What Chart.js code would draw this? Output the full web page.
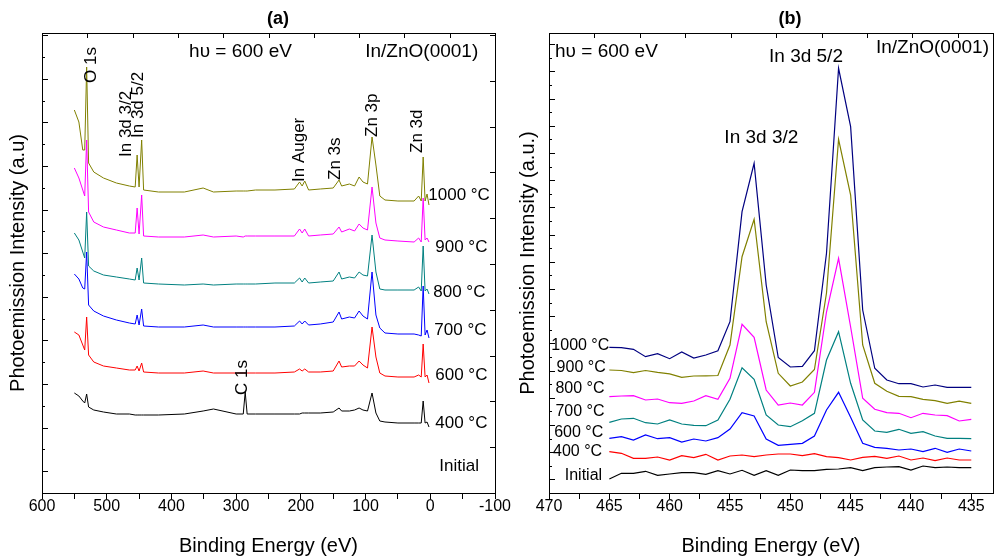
<!DOCTYPE html>
<html>
<head>
<meta charset="utf-8">
<script src="https://cdn.jsdelivr.net/npm/chart.js@4.4.1/dist/chart.umd.min.js"></script>
<style>
  body { margin: 0; background: #fff; }
  #wrap { position: relative; width: 995px; height: 558px; }
  canvas { position: absolute; top: 0; }
  #chartA { left: 0; }
  #chartB { left: 500px; }
</style>
</head>
<body>
<div id="wrap">
  <canvas id="chartA" width="520" height="558"></canvas>
  <canvas id="chartB" width="495" height="558"></canvas>
</div>
<script>
const FONT = "'Liberation Sans', Arial, Helvetica, sans-serif";

// ---- panel (a): survey spectra, binding energy (eV) vs intensity (a.u.)
const surveyEnergy = [550, 543, 537, 534, 531, 528, 520, 505, 485, 465,
  456, 453, 450, 446, 443, 420, 380, 351, 335, 300,
  289, 286, 283, 270, 240, 210, 202, 198, 194, 188,
  170, 150, 141, 137, 125, 117, 110, 104, 97, 90,
  84, 78, 70, 50, 25, 18, 14, 11, 8, 5, 2];
const survey1000 = [390, 378, 350, 350, 433, 337, 328, 322, 317, 314,
  313, 345, 313, 360, 310, 308, 308, 312, 308, 309,
  309, 309, 309, 310, 310, 311, 318, 314, 319, 310,
  311, 312, 320, 314, 316, 314, 323, 318, 316, 363,
  335, 304, 300, 299, 299, 304, 299, 343, 299, 306, 295];
const survey900 = [332, 322, 310, 304, 360, 288, 278, 273, 270, 267,
  267, 292, 266, 305, 264, 263, 263, 265, 263, 264,
  263, 264, 264, 264, 264, 264, 271, 267, 271, 264,
  265, 266, 273, 268, 271, 269, 276, 272, 270, 313,
  277, 262, 260, 259, 258, 262, 258, 302, 260, 262, 258];
const survey800 = [267, 260, 248, 242, 288, 234, 229, 225, 223, 221,
  220, 232, 220, 242, 217, 216, 215, 216, 215, 216,
  216, 216, 216, 216, 217, 217, 222, 218, 222, 217,
  218, 219, 228, 221, 223, 222, 228, 225, 224, 265,
  228, 211, 210, 210, 210, 213, 209, 254, 209, 211, 206];
const survey700 = [226, 221, 212, 211, 248, 195, 189, 184, 180, 177,
  176, 185, 175, 191, 174, 173, 173, 175, 173, 173,
  173, 173, 173, 173, 173, 174, 179, 176, 179, 175,
  176, 178, 188, 181, 183, 182, 189, 184, 181, 228,
  185, 172, 167, 166, 166, 165, 164, 214, 165, 170, 162];
const survey600 = [168, 165, 155, 150, 183, 145, 138, 134, 132, 130,
  130, 134, 129, 137, 128, 127, 127, 129, 127, 127,
  127, 127, 127, 127, 127, 128, 131, 129, 131, 128,
  128, 129, 139, 133, 134, 134, 139, 135, 132, 173,
  143, 127, 124, 123, 123, 125, 123, 156, 123, 125, 117];
const survey400 = [107, 104, 99, 97, 106, 93, 90, 88, 86, 86,
  85, 85, 85, 85, 85, 85, 86, 89, 91, 86,
  86, 108, 86, 86, 86, 86, 86, 87, 87, 87,
  87, 88, 92, 89, 89, 90, 92, 90, 89, 107,
  87, 79, 78, 77, 77, 77, 77, 99, 77, 78, 73];
const surveyTickLabels = [600, 500, 400, 300, 200, 100, 0, -100];

// ---- panel (b): In 3d region
const inEnergy = [465, 464, 463, 462, 461, 460, 459, 458, 457, 456,
  455, 454, 453, 452, 451, 450, 449, 448, 447, 446,
  445, 444, 443, 442, 441, 440, 439, 438, 437, 436, 435];
const in1000 = [152.7, 152.3, 150.7, 143.3, 146.3, 141.3, 148, 142, 145, 149.3,
  178.3, 288.3, 336.7, 215, 142.5, 133, 133.7, 149.3, 246.7, 431.7,
  373.3, 190, 131.7, 120, 116.3, 116.3, 113, 115, 112.7, 112.7, 112.7];
const in900 = [130, 129.5, 127.3, 129.5, 127.7, 126.2, 122.7, 124, 124.2, 124.5,
  155, 243.3, 280.7, 178.3, 126.7, 114, 118, 130.5, 207, 360.7,
  305, 155, 116.7, 108.7, 103.7, 103.3, 100.7, 99.3, 96.7, 98.8, 96.7];
const in800 = [103.3, 104, 104.3, 100, 101, 97.3, 96.7, 99, 104.3, 100.7,
  121.7, 175.7, 162.7, 110, 94.8, 97, 95, 107.7, 188, 241.7,
  173, 101.7, 90.7, 87.3, 86.7, 82.3, 86.7, 85, 84.3, 79, 80.7];
const in700 = [77.7, 81, 81.7, 77.3, 76, 80, 76, 74.7, 74.3, 80,
  100.7, 132.3, 120.7, 85, 75, 73.3, 79.3, 86.7, 140, 168.3,
  116.7, 80, 69, 67.7, 70.7, 66.7, 68.3, 64, 61.7, 61.7, 61.3];
const in600 = [61.7, 63.3, 60, 65, 61.3, 62.3, 58, 61, 59, 62.3,
  71, 87.3, 84, 61, 54.7, 55.7, 56.7, 64, 90, 107.7,
  82.7, 56.7, 52.7, 51.7, 50, 51, 48.3, 51.7, 47.7, 51, 49];
const in400 = [48.3, 46.7, 41.7, 41.7, 43, 40, 44.3, 42.3, 45.7, 40,
  44, 45, 43.3, 45, 46, 46, 44.3, 46.3, 43.3, 42.3,
  40, 42.7, 43.7, 41.7, 44, 40, 42, 39.3, 42, 40, 40];
const inInitial = [21, 26.7, 26.7, 28.7, 24.7, 26, 27.3, 27.3, 25.7, 29.3,
  26, 29.7, 24.7, 29.3, 24.7, 30, 29.3, 29.3, 30.7, 31,
  32.3, 29.3, 32.3, 33, 33.3, 30, 34, 32.3, 33, 32.3, 32.3];
const inTickLabels = [470, 465, 460, 455, 450, 445, 440, 435];

// text placed in data coordinates (energy, intensity)
const notesA = [
  { t: 'h\u03c5 = 600 eV', e: 372.7, v: 448, size: 19 },
  { t: 'In/ZnO(0001)', e: 100.5, v: 448, size: 19 },
  { t: 'O 1s', e: 523.2, v: 417, size: 17, rot: true },
  { t: 'In 3d 3/2', e: 469, v: 343, size: 17, rot: true },
  { t: 'In 3d 5/2', e: 451.6, v: 362, size: 17, rot: true },
  { t: 'In Auger', e: 202.6, v: 318, size: 17, rot: true },
  { t: 'Zn 3s', e: 147, v: 320, size: 17, rot: true },
  { t: 'Zn 3p', e: 90.2, v: 363, size: 17, rot: true },
  { t: 'Zn 3d', e: 20.1, v: 347, size: 17, rot: true },
  { t: 'C 1s', e: 291.2, v: 105, size: 17, rot: true },
  { t: '1000 \u00b0C', e: 3.1, v: 305, size: 17 },
  { t: '900 \u00b0C', e: -7.7, v: 253, size: 17 },
  { t: '800 \u00b0C', e: -4.6, v: 208, size: 17 },
  { t: '700 \u00b0C', e: -6.2, v: 170, size: 17 },
  { t: '600 \u00b0C', e: -7.7, v: 125, size: 17 },
  { t: '400 \u00b0C', e: -7.7, v: 77, size: 17 },
  { t: 'Initial', e: -13.9, v: 34, size: 17 }
];
const notesB = [
  { t: 'h\u03c5 = 600 eV', e: 469.5, v: 448, size: 19 },
  { t: 'In/ZnO(0001)', e: 442.9, v: 452, size: 19 },
  { t: 'In 3d 5/2', e: 448.7, v: 443, size: 19, align: 'center' },
  { t: 'In 3d 3/2', e: 452.4, v: 362, size: 19, align: 'center' },
  { t: '1000 \u00b0C', e: 465.0, v: 154, size: 16, align: 'right' },
  { t: '900 \u00b0C', e: 465.3, v: 132, size: 16, align: 'right' },
  { t: '800 \u00b0C', e: 465.4, v: 111, size: 16, align: 'right' },
  { t: '700 \u00b0C', e: 465.4, v: 88, size: 16, align: 'right' },
  { t: '600 \u00b0C', e: 465.5, v: 67, size: 16, align: 'right' },
  { t: '400 \u00b0C', e: 465.6, v: 48, size: 16, align: 'right' },
  { t: 'Initial', e: 465.6, v: 24, size: 16, align: 'right' }
];

function lineSet(label, xs, ys, color, width) {
  return {
    label: label,
    data: xs.map((x, i) => ({ x: x, y: ys[i] })),
    borderColor: color,
    borderWidth: width,
    pointRadius: 0,
    tension: 0,
    fill: false
  };
}

// frame, inward ticks, titles and labels
const framePlugin = {
  id: 'frame',
  afterDatasetsDraw(chart, args, o) {
    const ctx = chart.ctx;
    const a = chart.chartArea;
    const x = chart.scales.x, y = chart.scales.y;
    ctx.save();
    ctx.strokeStyle = '#000';
    ctx.lineWidth = 1;
    ctx.strokeRect(a.left + 0.5, a.top + 0.5, a.right - a.left, a.bottom - a.top);

    ctx.beginPath();
    let k = 0;
    for (let v = y.min; v <= y.max + 0.01; v += o.leftStep, k++) {
      const py = Math.round(y.getPixelForValue(v)) + 0.5;
      const len = (k % 2) ? 6 : 3;
      ctx.moveTo(a.left, py); ctx.lineTo(a.left + len, py);
    }
    if (o.rightStep) {
      for (let v = y.min; v <= y.max + 0.01; v += o.rightStep) {
        const py = Math.round(y.getPixelForValue(v)) + 0.5;
        ctx.moveTo(a.right, py); ctx.lineTo(a.right - 5, py);
      }
    }
    for (let e = x.max; e >= x.min - 0.01; e -= o.topStep) {
      const px = Math.round(x.getPixelForValue(e)) + 0.5;
      ctx.moveTo(px, a.top); ctx.lineTo(px, a.top + 5);
    }
    ctx.stroke();

    ctx.fillStyle = '#000';
    // panel title
    ctx.font = 'bold 18px ' + FONT;
    ctx.textAlign = 'center';
    ctx.textBaseline = 'middle';
    ctx.fillText(o.title, (a.left + a.right) / 2 + o.titleDx, a.top - 14);

    // y axis title
    ctx.save();
    ctx.font = '20px ' + FONT;
    ctx.translate(a.left - o.yTitleGap, (a.top + a.bottom) / 2);
    ctx.rotate(-Math.PI / 2);
    ctx.fillText(o.yTitle, 0, 0);
    ctx.restore();

    o.notes.forEach(n => {
      const px = x.getPixelForValue(n.e);
      const py = y.getPixelForValue(n.v);
      ctx.font = n.size + 'px ' + FONT;
      ctx.textBaseline = 'middle';
      if (n.rot) {
        ctx.save();
        ctx.translate(px, py);
        ctx.rotate(-Math.PI / 2);
        ctx.textAlign = 'left';
        ctx.fillText(n.t, 0, 0);
        ctx.restore();
      } else {
        ctx.textAlign = n.align || 'left';
        ctx.fillText(n.t, px, py);
      }
    });
    ctx.restore();
  }
};

function xAxis(min, max, step, labels, height) {
  return {
    type: 'linear',
    reverse: true,
    min: min,
    max: max,
    position: 'bottom',
    afterFit: s => { s.height = height; },
    afterBuildTicks: s => {
      s.ticks = s.ticks.filter(t => Math.abs(t.value / step - Math.round(t.value / step)) < 1e-6);
    },
    ticks: {
      stepSize: step,
      includeBounds: false,
      autoSkip: false,
      maxRotation: 0,
      color: '#000',
      padding: 0,
      font: { family: FONT, size: 16, lineHeight: 1 },
      callback: v => labels.includes(v) ? String(v) : ''
    },
    grid: { drawOnChartArea: false, drawTicks: true, tickLength: 6, color: '#000' },
    border: { display: true, color: '#000', width: 1 },
    title: { display: true, text: 'Binding Energy (eV)', color: '#000',
             font: { family: FONT, size: 20 }, padding: 0 }
  };
}

new Chart(document.getElementById('chartA'), {
  type: 'line',
  data: {
    datasets: [
      lineSet('400 °C', surveyEnergy, survey400, '#000000', 1),
      lineSet('600 °C', surveyEnergy, survey600, '#ff0000', 1),
      lineSet('700 °C', surveyEnergy, survey700, '#0000ff', 1),
      lineSet('800 °C', surveyEnergy, survey800, '#008080', 1),
      lineSet('900 °C', surveyEnergy, survey900, '#ff00ff', 1),
      lineSet('1000 °C', surveyEnergy, survey1000, '#808000', 1)
    ]
  },
  options: {
    responsive: false,
    animation: false,
    devicePixelRatio: 1,
    layout: { padding: { left: 42, right: 25, top: 33, bottom: 0 } },
    plugins: {
      legend: { display: false },
      tooltip: { enabled: false },
      frame: { title: '(a)', titleDx: 9.5, yTitle: 'Photoemission Intensity (a.u)', yTitleGap: 24,
               leftStep: 21.8, rightStep: 45.8, topStep: 70, notes: notesA }
    },
    scales: {
      x: xAxis(-100, 600, 50, surveyTickLabels, 65),
      y: { display: false, min: 7, max: 467 }
    }
  },
  plugins: [framePlugin]
});

new Chart(document.getElementById('chartB'), {
  type: 'line',
  data: {
    datasets: [
      lineSet('Initial', inEnergy, inInitial, '#000000', 1.2),
      lineSet('400 °C', inEnergy, in400, '#ff0000', 1.2),
      lineSet('600 °C', inEnergy, in600, '#0000ff', 1.2),
      lineSet('700 °C', inEnergy, in700, '#008080', 1.2),
      lineSet('800 °C', inEnergy, in800, '#ff00ff', 1.2),
      lineSet('900 °C', inEnergy, in900, '#808000', 1.2),
      lineSet('1000 °C', inEnergy, in1000, '#000080', 1.2)
    ]
  },
  options: {
    responsive: false,
    animation: false,
    devicePixelRatio: 1,
    layout: { padding: { left: 49, right: 2, top: 33, bottom: 0 } },
    plugins: {
      legend: { display: false },
      tooltip: { enabled: false },
      frame: { title: '(b)', titleDx: 19, yTitle: 'Photoemission Intensity (a.u.)', yTitleGap: 21,
               leftStep: 13.6, rightStep: 0, topStep: 3.765, notes: notesB }
    },
    scales: {
      x: xAxis(433.2, 470, 2.5, inTickLabels, 65),
      y: { display: false, min: 7, max: 467 }
    }
  },
  plugins: [framePlugin]
});
</script>
</body>
</html>
